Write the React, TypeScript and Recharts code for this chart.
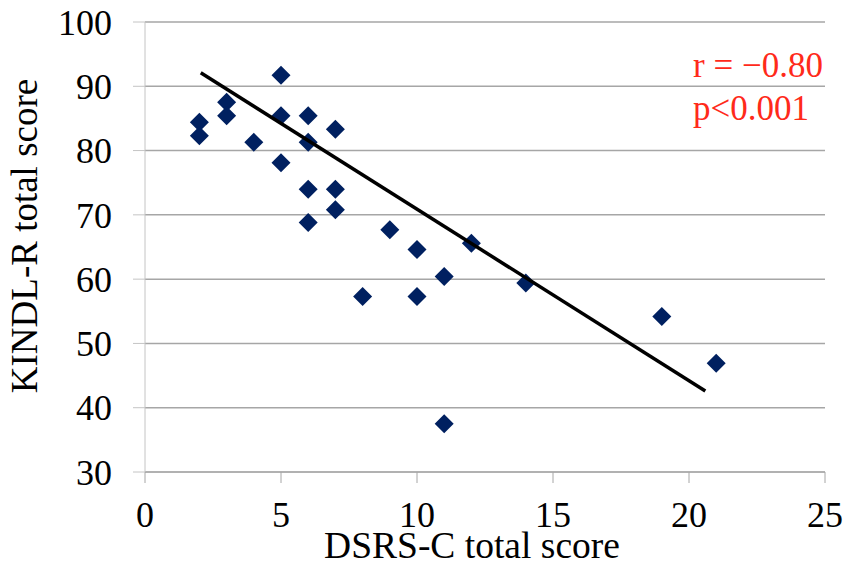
import React from "react";
import {
    ScatterChart,
    Scatter,
    XAxis,
    YAxis,
    CartesianGrid,
} from "recharts";

// DSRS-C (x) vs KINDL-R (y)
const dsrsScores = [2, 2, 3, 3, 4, 5, 5, 5, 6, 6, 6, 6, 7, 7, 7, 8, 9, 10, 10, 11, 11, 12, 14, 19, 21];
const kindlScores = [
    84.4, 82.3, 87.5, 85.4, 81.3, 91.7, 85.4, 78.1, 85.4, 81.3, 74.0, 68.8, 83.3, 74.0, 70.8,
    57.3, 67.7, 64.6, 57.3, 60.4, 37.5, 65.6, 59.4, 54.2, 46.9,
];
const trendX = [2.05, 20.6];
const trendY = [92.1, 42.6];
const xTicks = [0, 5, 10, 15, 20, 25];
const yTicks = [30, 40, 50, 60, 70, 80, 90, 100];

const points = dsrsScores.map((x, i) => ({ x, y: kindlScores[i] }));
const trend = trendX.map((x, i) => ({ x, y: trendY[i] }));

const FONT = "'Liberation Serif', 'Times New Roman', serif";

const Diamond = (props: any) => {
    const { cx, cy } = props;
    const r = 9.5;
    return (
        <polygon
            points={`${cx},${cy - r} ${cx + r},${cy} ${cx},${cy + r} ${cx - r},${cy}`}
            fill="#002060"
        />
    );
};

export default function App() {
    return (
        <div style={{ position: "absolute", left: 0, top: 0, width: 845, height: 566, background: "#fff" }}>
            <ScatterChart width={845} height={566} margin={{ top: 22, right: 20, left: 0, bottom: 0 }}>
                <CartesianGrid vertical={false} stroke="#a6a6a6" strokeWidth={1.5} />
                <XAxis
                    type="number"
                    dataKey="x"
                    domain={[0, 25]}
                    ticks={xTicks}
                    height={94}
                    tickSize={11}
                    stroke="#a6a6a6"
                    tick={{ fontSize: 36, fill: "#000", fontFamily: FONT, dy: 16 }}
                />
                <YAxis
                    type="number"
                    dataKey="y"
                    domain={[30, 100]}
                    ticks={yTicks}
                    width={145}
                    tickSize={12}
                    stroke="#c4c4c4"
                    tick={{ fontSize: 36, fill: "#000", fontFamily: FONT, dx: -19 }}
                />
                <Scatter data={points} shape={<Diamond />} isAnimationActive={false} />
                <Scatter
                    data={trend}
                    line={{ stroke: "#000", strokeWidth: 3.5 }}
                    shape={() => null}
                    isAnimationActive={false}
                />
                <text x={472} y={558} textAnchor="middle" fontSize={37.5} fill="#000" fontFamily={FONT}>
                    DSRS-C total score
                </text>
                <text
                    x={37}
                    y={236}
                    transform="rotate(-90, 37, 236)"
                    textAnchor="middle"
                    fontSize={37}
                    fill="#000"
                    fontFamily={FONT}
                >
                    KINDL-R total score
                </text>
                <text x={693} y={77} textAnchor="start" fontSize={35} fill="#ff2a1a" fontFamily={FONT}>
                    r = −0.80
                </text>
                <text x={693} y={120} textAnchor="start" fontSize={35} fill="#ff2a1a" fontFamily={FONT}>
                    p&lt;0.001
                </text>
            </ScatterChart>
        </div>
    );
}
